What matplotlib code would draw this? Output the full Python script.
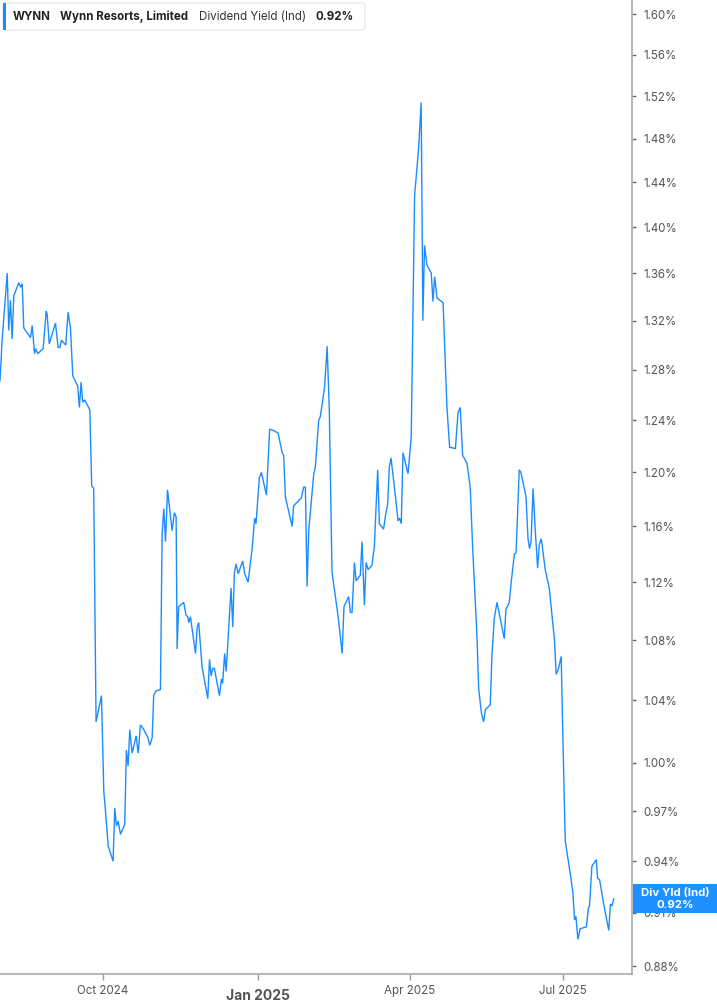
import matplotlib
matplotlib.use("Agg")
import matplotlib.pyplot as plt
import matplotlib.dates as mdates
import matplotlib.ticker as mticker
from matplotlib.patches import FancyBboxPatch, Rectangle
import matplotlib.transforms as mtransforms
import pandas as pd

plt.rcParams['font.family'] = ['Inter', 'DejaVu Sans']

# ---- data: days since 2024-08-01, dividend yield (%) ----
start_date = "2024-08-01"
day_offsets = [
    0.0, 1.3, 4.3, 5.2, 6.2, 7.2, 8.2, 11.2, 12.2, 13.2, 14.1, 18.1, 19.1, 20.5, 21.2,
    22.4, 25.6, 27.4, 28.0, 29.2, 32.9, 34.5, 35.5, 36.5, 39.0, 40.4, 41.8, 43.2, 46.1,
    47.1, 48.1, 49.1, 50.3, 53.3, 54.4, 55.6, 57.0, 60.2, 61.6, 62.6, 64.2, 67.1, 68.1,
    69.1, 70.1, 71.5, 74.0, 75.0, 76.0, 77.0, 78.4, 80.8, 82.0, 83.3, 85.3, 87.7, 88.9,
    90.3, 91.2, 92.4, 95.2, 96.2, 97.2, 98.2, 99.4, 102.1, 103.5, 104.5, 105.1, 106.0,
    109.0, 110.4, 111.4, 112.0, 113.0, 116.0, 117.0, 117.9, 119.9, 123.3, 124.3, 125.3,
    126.2, 127.2, 130.2, 131.4, 132.1, 133.3, 134.2, 137.1, 138.1, 139.1, 140.1, 141.3,
    144.0, 145.2, 147.2, 149.6, 151.1, 151.9, 153.9, 155.1, 158.1, 160.0, 162.4, 165.0,
    167.4, 168.3, 169.3, 173.3, 174.2, 178.8, 180.2, 181.2, 182.2, 183.2, 186.1, 187.1,
    189.1, 190.1, 192.6, 194.1, 195.4, 197.0, 200.3, 201.5, 203.0, 204.1, 206.9, 207.9,
    208.9, 210.3, 211.3, 213.8, 214.8, 216.2, 217.2, 218.4, 220.7, 222.1, 222.9, 224.1,
    225.1, 227.6, 229.0, 230.0, 231.0, 232.0, 234.2, 236.2, 237.1, 238.1, 239.1, 242.1,
    244.0, 246.0, 248.4, 249.9, 250.9, 251.9, 253.3, 255.9, 256.9, 257.9, 259.3, 262.9,
    265.2, 266.8, 267.6, 270.2, 271.8, 273.1, 274.5, 277.1, 279.0, 280.4, 283.0, 284.0,
    285.6, 287.0, 288.0, 290.9, 291.9, 293.3, 294.9, 299.2, 300.2, 302.2, 303.4, 305.2,
    306.2, 308.1, 309.1, 312.1, 313.3, 314.2, 315.1, 316.3, 317.6, 319.0, 320.0, 321.2,
    323.5, 325.9, 329.0, 330.0, 331.4, 333.0, 333.8, 335.4, 338.3, 339.9, 340.9, 341.7,
    342.9, 344.3, 347.9, 349.2, 349.8, 351.2, 353.8, 354.6, 355.8, 358.2, 361.2, 362.2,
    363.2, 364.2,
]
yield_pct = [
    1.271, 1.305, 1.360, 1.312, 1.337, 1.305, 1.341, 1.352, 1.348, 1.351, 1.314, 1.306,
    1.316, 1.293, 1.297, 1.293, 1.297, 1.328, 1.325, 1.301, 1.318, 1.298, 1.298, 1.304,
    1.300, 1.327, 1.314, 1.275, 1.267, 1.250, 1.270, 1.254, 1.256, 1.248, 1.190, 1.188,
    1.026, 1.043, 0.982, 0.970, 0.949, 0.940, 0.972, 0.961, 0.964, 0.956, 0.962, 1.008,
    0.998, 1.021, 1.006, 1.017, 1.006, 1.024, 1.021, 1.016, 1.011, 1.016, 1.043, 1.046,
    1.047, 1.155, 1.173, 1.149, 1.187, 1.157, 1.170, 1.167, 1.074, 1.103, 1.106, 1.097,
    1.096, 1.092, 1.096, 1.071, 1.089, 1.092, 1.062, 1.041, 1.067, 1.056, 1.061, 1.061,
    1.043, 1.054, 1.051, 1.071, 1.059, 1.116, 1.089, 1.127, 1.133, 1.126, 1.135, 1.126,
    1.120, 1.144, 1.166, 1.162, 1.196, 1.200, 1.183, 1.233, 1.232, 1.230, 1.215, 1.213,
    1.182, 1.160, 1.175, 1.181, 1.189, 1.189, 1.117, 1.157, 1.198, 1.204, 1.240, 1.243,
    1.266, 1.299, 1.248, 1.127, 1.099, 1.087, 1.071, 1.103, 1.110, 1.099, 1.099, 1.134,
    1.121, 1.125, 1.149, 1.104, 1.134, 1.129, 1.132, 1.145, 1.167, 1.202, 1.162, 1.158,
    1.170, 1.176, 1.204, 1.211, 1.187, 1.164, 1.166, 1.162, 1.215, 1.199, 1.227, 1.428,
    1.471, 1.514, 1.320, 1.384, 1.367, 1.360, 1.336, 1.357, 1.339, 1.335, 1.250, 1.219,
    1.219, 1.218, 1.246, 1.250, 1.213, 1.207, 1.189, 1.146, 1.083, 1.048, 1.032, 1.026,
    1.034, 1.037, 1.070, 1.095, 1.106, 1.081, 1.101, 1.106, 1.121, 1.140, 1.141, 1.202,
    1.200, 1.182, 1.151, 1.144, 1.149, 1.188, 1.157, 1.130, 1.147, 1.151, 1.129, 1.116,
    1.080, 1.057, 1.061, 1.069, 1.025, 0.952, 0.933, 0.922, 0.906, 0.908, 0.895, 0.901,
    0.902, 0.913, 0.914, 0.937, 0.941, 0.930, 0.929, 0.915, 0.900, 0.915, 0.914, 0.918,
]
ytick_values = [1.60, 1.56, 1.52, 1.48, 1.44, 1.40, 1.36, 1.32, 1.28, 1.24, 1.20,
                1.16, 1.12, 1.08, 1.04, 1.00, 0.97, 0.94, 0.91, 0.88]
xtick_dates = ["2024-10-01", "2025-01-01", "2025-04-01", "2025-07-01"]
xtick_labels = ["Oct 2024", "Jan 2025", "Apr 2025", "Jul 2025"]
ticker_symbol = "WYNN"
company = "Wynn Resorts, Limited"
metric = "Dividend Yield (Ind)"
last_label = "0.92%"

LINE = "#1a8cff"
W, H = 717, 1005

dates = pd.Timestamp(start_date) + pd.to_timedelta(day_offsets, unit="D")

fig = plt.figure(figsize=(W / 100, H / 100), dpi=100)
ax = fig.add_axes([0, 31 / H, 632 / W, 1 - 31 / H])

ax.plot(dates, yield_pct, color=LINE, lw=1.0, solid_joinstyle="miter")

ax.set_yscale("log")
ax.set_ylim(0.8757, 1.6146)
ax.set_xlim(pd.Timestamp("2024-08-01"), pd.Timestamp("2025-08-11"))

ax.yaxis.set_major_locator(mticker.FixedLocator(ytick_values))
ax.yaxis.set_major_formatter(mticker.FixedFormatter([f"{v:.2f}%" for v in ytick_values]))
ax.yaxis.set_minor_locator(mticker.NullLocator())
ax.yaxis.tick_right()
ax.tick_params(axis="y", which="major", direction="out", length=3, width=1,
               color="#666666", labelcolor="#555555", labelsize=8.3, pad=5)

xt = [mdates.date2num(pd.Timestamp(d)) for d in xtick_dates]
ax.xaxis.set_major_locator(mticker.FixedLocator(xt))
ax.xaxis.set_major_formatter(mticker.FixedFormatter(xtick_labels))
ax.xaxis.set_minor_locator(mticker.NullLocator())
ax.tick_params(axis="x", which="major", direction="out", length=4, width=1,
               color="#999999", labelcolor="#555555", labelsize=8.3, pad=4)
for lbl in ax.get_xticklabels():
    if lbl.get_text().startswith("Jan"):
        lbl.set_fontweight("bold")
        lbl.set_fontsize(10)
        lbl.set_y(-0.004)

for s in ["left", "top"]:
    ax.spines[s].set_visible(False)
for s in ["right", "bottom"]:
    ax.spines[s].set_color("#aaaaaa")
    ax.spines[s].set_linewidth(1.2)

# header box
hdr = FancyBboxPatch((3 / W, 1 - 30 / H), 362 / W, 27 / H,
                     boxstyle="round,pad=0,rounding_size=0.004",
                     transform=fig.transFigure, facecolor="white",
                     edgecolor="#e3e3e3", lw=0.8, zorder=5)
fig.patches.append(hdr)
fig.patches.append(Rectangle((3 / W, 1 - 30 / H), 3 / W, 27 / H,
                             transform=fig.transFigure, facecolor=LINE,
                             edgecolor="none", zorder=6))
ty = 1 - 16.5 / H
fig.text(13 / W, ty, ticker_symbol, fontsize=8.3, fontweight="bold", color="#222222",
         va="center", zorder=7)
fig.text(60 / W, ty, company, fontsize=8.3, fontweight="bold", color="#222222",
         va="center", zorder=7)
fig.text(199 / W, ty, metric, fontsize=8.3, color="#333333", va="center", zorder=7)
fig.text(316 / W, ty, last_label, fontsize=8.3, fontweight="bold", color="#222222",
         va="center", zorder=7)

# last-value badge on the right axis
trans = mtransforms.blended_transform_factory(fig.transFigure, ax.transData)
last_v = yield_pct[-1]
badge_h = 1.0092
ax.add_patch(Rectangle((633 / W, last_v / badge_h), 84 / W, last_v * badge_h - last_v / badge_h,
                       transform=trans, facecolor="#1e90ff", edgecolor="none",
                       clip_on=False, zorder=8))
ax.text(675 / W, last_v * 1.0040, "Div Yld (Ind)", transform=trans, color="white",
        fontsize=8.2, fontweight="bold", ha="center", va="center", clip_on=False, zorder=9)
ax.text(675 / W, last_v / 1.0036, last_label, transform=trans, color="white",
        fontsize=8.2, fontweight="bold", ha="center", va="center", clip_on=False, zorder=9)

fig.savefig("out.png", dpi=100)
